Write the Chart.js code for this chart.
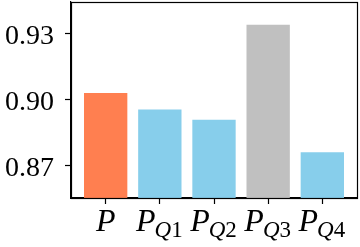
<!DOCTYPE html>
<html><head><meta charset="utf-8">
<script src="https://cdn.jsdelivr.net/npm/chart.js@4/dist/chart.umd.min.js"></script>
<style>html,body{margin:0;padding:0;background:#fff;}#wrap{width:360px;height:247px;}</style>
</head><body><div id="wrap"><canvas id="c" width="360" height="247"></canvas></div>
<script>
const labelMain = ['P', 'P', 'P', 'P', 'P'];
const labelSubLetter = ['', 'Q', 'Q', 'Q', 'Q'];
const labelSubDigit = ['', '1', '2', '3', '4'];
const values = [0.9028, 0.8953, 0.8906, 0.9339, 0.8758];
const barColors = ['#FF7F50', '#87CEEB', '#87CEEB', '#C0C0C0', '#87CEEB'];
const yTicks = [0.87, 0.90, 0.93];

const serif = '"Liberation Serif", "Times New Roman", serif';

const frame = {
  id: 'frame',
  afterDraw(chart) {
    const {ctx, chartArea: a, scales} = chart;
    ctx.save();
    ctx.strokeStyle = '#000';
    ctx.lineWidth = 1.2;
    ctx.strokeRect(Math.round(a.left) + 0.5, Math.round(a.top) + 0.5,
      Math.round(a.right - a.left), Math.round(a.bottom - a.top));
    // y labels
    const ys = scales.y;
    ctx.fillStyle = '#000';
    ctx.font = '28px ' + serif;
    ctx.textAlign = 'right';
    ctx.textBaseline = 'alphabetic';
    yTicks.forEach(v => {
      ctx.fillText(v.toFixed(2), a.left - 17, ys.getPixelForValue(v) + 10.5);
    });
    // x labels with subscripts
    const xs = scales.x;
    const base = 231;
    ctx.textAlign = 'left';
    for (let i = 0; i < values.length; i++) {
      const cx = xs.getPixelForValue(i);
      ctx.font = 'italic 32px ' + serif;
      const wm = ctx.measureText(labelMain[i]).width;
      ctx.font = 'italic 23px ' + serif;
      const wq = ctx.measureText(labelSubLetter[i]).width;
      ctx.font = '23px ' + serif;
      const wd = ctx.measureText(labelSubDigit[i]).width;
      const total = wm + wq + wd;
      let x = cx - total / 2;
      ctx.font = 'italic 32px ' + serif;
      ctx.fillText(labelMain[i], x, base);
      x += wm - 1;
      ctx.font = 'italic 23px ' + serif;
      ctx.fillText(labelSubLetter[i], x, base + 6);
      x += wq;
      ctx.font = '23px ' + serif;
      ctx.fillText(labelSubDigit[i], x, base + 6);
    }
    ctx.restore();
  }
};

new Chart(document.getElementById('c'), {
  type: 'bar',
  data: {
    datasets: [{
      data: values.map((v, i) => ({x: i, y: v})),
      backgroundColor: barColors,
      borderWidth: 0,
      categoryPercentage: 1.0,
      barPercentage: 0.8
    }]
  },
  options: {
    responsive: false,
    animation: false,
    devicePixelRatio: 1,
    layout: {padding: {top: 2, right: 3, left: 0, bottom: 0}},
    plugins: {legend: {display: false}, tooltip: {enabled: false}},
    scales: {
      x: {
        type: 'linear',
        offset: false,
        min: -0.64, max: 4.64,
        afterBuildTicks(s) { s.ticks = values.map((v, i) => ({value: i})); },
        afterFit(s) { s.height = 49; s.paddingLeft = 0; s.paddingRight = 0; },
        grid: {offset: false, drawOnChartArea: false, drawTicks: true, tickLength: 6, tickColor: '#000', tickWidth: 1.2},
        border: {display: true, color: '#000', width: 1.2},
        ticks: {display: false}
      },
      y: {
        min: 0.855, max: 0.9442,
        afterBuildTicks(s) { s.ticks = yTicks.map(v => ({value: v})); },
        afterFit(s) { s.width = 71; s.paddingTop = 0; s.paddingBottom = 0; },
        grid: {offset: false, drawOnChartArea: false, drawTicks: true, tickLength: 6, tickColor: '#000', tickWidth: 1.2},
        border: {display: true, color: '#000', width: 1.2},
        ticks: {display: false}
      }
    }
  },
  plugins: [frame]
});
</script></body></html>
